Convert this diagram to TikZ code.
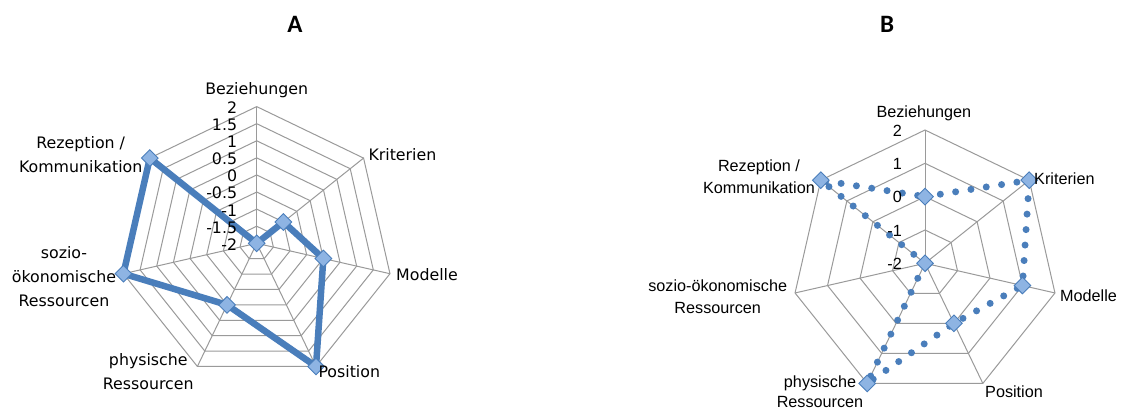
\documentclass[tikz,border=0pt]{standalone}
\usepackage{fontspec}
\setmainfont{Liberation Sans}
\newfontfamily\lucida{DejaVu Sans}
\newfontfamily\calib{Carlito}
\usetikzlibrary{shapes.geometric}
\definecolor{serie}{HTML}{4A7EBB}
\definecolor{mfill}{HTML}{8EB4E3}
\definecolor{gridc}{HTML}{9A9A9A}
\begin{document}
\begin{tikzpicture}[x=1pt,y=-1pt,
  grid/.style={draw=gridc,line width=1pt},
  dmark/.style={diamond,draw=serie,fill=mfill,line width=0.9pt,minimum size=17pt,inner sep=0pt},
  lineA/.style={draw=serie,line width=6.5pt,line join=round},
  lineB/.style={draw=serie,line width=7pt,line cap=round,dash pattern=on 0pt off 15.5pt},
  lblA/.style={font=\lucida\fontsize{15.8}{24}\selectfont,text=black,inner sep=0pt,align=center},
  lblB/.style={font=\fontsize{16.2}{22}\selectfont,text=black,inner sep=0pt,align=center},
  ttl/.style={font=\calib\bfseries\fontsize{25}{30}\selectfont,text=black,inner sep=0pt}]
\useasboundingbox (0,0) rectangle (1121,409);
\fill[white] (0,0) rectangle (1121,409);
% titles
\node[ttl] (tA) at (295,24.7) {A};
\node[ttl] (tB) at (887,24.3) {B};
% ---------------- chart A ----------------
\begin{scope}[shift={(256.7,243.3)}]
  \foreach \i in {1,...,8}
    \draw[grid] plot[samples at={0,...,6}] ({90-\x*360/7}:{\i*17.0875pt}) -- cycle;
  \foreach \k in {0,...,6}
    \draw[grid] (0,0) -- ({90-\k*360/7}:136.7pt);
  \foreach \k/\r in {0/0,1/34.175,2/68.35,3/136.7,4/68.35,5/136.7,6/136.7}
    \coordinate (a\k) at ({90-\k*360/7}:{\r pt});
  \draw[lineA] (a0) -- (a1) -- (a2) -- (a3) -- (a4) -- (a5) -- (a6) -- cycle;
  \foreach \k in {0,...,6}
    \node[dmark] (ma\k) at (a\k) {};
\end{scope}
\foreach \v [count=\i from 0] in {-2,-1.5,-1,-0.5,0,0.5,1,1.5,2}
  \node[lblA,anchor=east] (tickA\i) at (237.3,{244.5-\i*17.0875}) {\v};
\node[lblA] (A0) at (256.7,90) {Beziehungen};
\node[lblA,anchor=west] (A1) at (368.3,155) {Kriterien};
\node[lblA,anchor=west] (A2) at (396,275) {Modelle};
\node[lblA,anchor=west] (A3) at (318.3,371.7) {Position};
\node[lblA] (A4) at (148.3,371.7) {physische\\Ressourcen};
\node[lblA] (A5) at (64,276.7) {sozio-\\ökonomische\\Ressourcen};
\node[lblA] (A6) at (80.7,155) {Rezeption /\\Kommunikation};
% ---------------- chart B ----------------
\begin{scope}[shift={(925,263.3)}]
  \foreach \i in {1,...,4}
    \draw[grid] plot[samples at={0,...,6}] ({90-\x*360/7}:{\i*33.325pt}) -- cycle;
  \foreach \k in {0,...,6}
    \draw[grid] (0,0) -- ({90-\k*360/7}:133.3pt);
  \foreach \k/\r in {0/66.65,1/133.3,2/99.975,3/66.65,4/133.3,5/0,6/133.3}
    \coordinate (b\k) at ({90-\k*360/7}:{\r pt});
  \draw[lineB] (b0) -- (b1) -- (b2) -- (b3) -- (b4) -- (b5) -- (b6) -- cycle;
  \foreach \k in {0,...,6}
    \node[dmark] (mb\k) at (b\k) {};
\end{scope}
\foreach \v [count=\i from 0] in {-2,-1,0,1,2}
  \node[lblB,anchor=east] (tickB\i) at (902,{264-\i*33.325}) {\v};
\node[lblB] (B0) at (923.8,113) {Beziehungen};
\node[lblB,anchor=west] (B1) at (1034,178.3) {Kriterien};
\node[lblB,anchor=west] (B2) at (1060,296) {Modelle};
\node[lblB,anchor=west] (B3) at (985,391.7) {Position};
\node[lblB,font=\fontsize{16.2}{20}\selectfont] (B4) at (820,391.7) {physische\\Ressourcen};
\node[lblB] (B5) at (717.7,296.3) {sozio-ökonomische\\Ressourcen};
\node[lblB] (B6) at (759,177) {Rezeption /\\Kommunikation};
\end{tikzpicture}
\end{document}
